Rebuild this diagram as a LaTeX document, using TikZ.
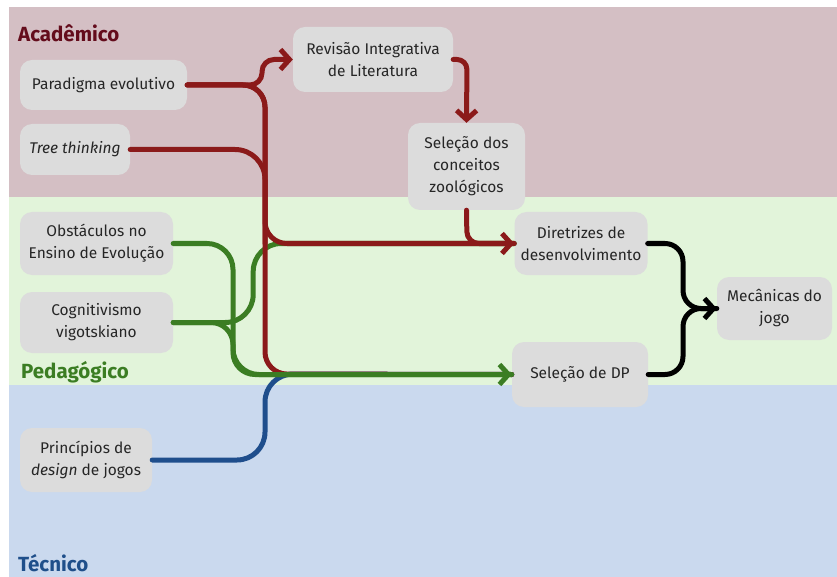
\documentclass[tikz,border=0pt]{standalone}
\usepackage{fontspec}
\setmainfont{Fira Sans}
\usetikzlibrary{arrows.meta}
\definecolor{bgA}{HTML}{D4BFC4}
\definecolor{bgP}{HTML}{E2F4DA}
\definecolor{bgT}{HTML}{CAD9EE}
\definecolor{labA}{HTML}{640C1C}
\definecolor{labP}{HTML}{3B7D23}
\definecolor{labT}{HTML}{1F4F8A}
\definecolor{lnR}{HTML}{8B1A1A}
\definecolor{lnG}{HTML}{3B7D23}
\definecolor{lnB}{HTML}{1F4E8C}
\definecolor{boxfill}{HTML}{DCDCDC}
\begin{document}
\begin{tikzpicture}[x=1pt,y=-1pt,
  box/.style={fill=boxfill,rounded corners=12pt,align=center,inner sep=0pt,
    font=\fontsize{15.5}{22}\selectfont,text=black!85},
  grp/.style={font=\fontsize{20.5}{22}\selectfont\bfseries,anchor=base west,inner sep=0pt},
  conn/.style={line width=5pt,line cap=round,line join=round,rounded corners=#1},
  conn/.default=20pt,
  tip/.style={-{Straight Barb[length=9pt,width=20pt,line width=5pt]}}
]
\useasboundingbox (0,0) rectangle (837,577);
\fill[white] (0,0) rectangle (837,577);
\fill[bgA] (9,7) rectangle (837,197);
\fill[bgP] (9,197) rectangle (837,385);
\fill[bgT] (9,385) rectangle (837,577);
\node[grp,text=labA] (lA) at (18,42) {Acadêmico};
\node[grp,text=labP] (lP) at (21,378) {Pedagógico};
\node[grp,text=labT] (lT) at (18,571) {Técnico};

\node[box,minimum width=167pt,minimum height=50pt] (par) at (103.5,85) {Paradigma evolutivo};
\node[box,minimum width=110pt,minimum height=51pt] (tree) at (75,149.5) {\itshape Tree thinking};
\node[box,minimum width=160pt,minimum height=65pt] (rev) at (373,59.5) {Revisão Integrativa\\de Literatura};
\node[box,minimum width=117pt,minimum height=87pt] (sel) at (466.5,166.5) {Seleção dos\\conceitos\\zoológicos};
\node[box,minimum width=133pt,minimum height=63pt] (dir) at (581,243.5) {Diretrizes de\\desenvolvimento};
\node[box,minimum width=115pt,minimum height=63pt] (mec) at (774.5,308.5) {Mecânicas do\\jogo};
\node[box,minimum width=136pt,minimum height=65pt] (dp) at (580,374.5) {Seleção de DP};
\node[box,minimum width=153pt,minimum height=63pt] (obs) at (96.5,243.5) {Obstáculos no\\Ensino de Evolução};
\node[box,minimum width=153pt,minimum height=61pt] (cog) at (96.5,322.5) {Cognitivismo\\vigotskiano};
\node[box,minimum width=132pt,minimum height=64pt] (pri) at (86,460) {Princípios de\\\textit{design} de jogos};

% green up-branch (under red)
\draw[conn=28pt,lnG] (cog.east) -- ++(80,0) |- (dir.west);
% blue
\draw[conn=28pt,lnB] (pri.east) -- (265,460) -- (265,374) -- (dp.west);
% red
\draw[conn=12pt,lnR,tip] (par.east) -- (262,85) -- (262,59.5) -- (rev.west);
\draw[conn=22pt,lnR] (par.east) -- (265,85) -- (265,374) -- (dp.west);
\draw[conn=30pt,lnR] (tree.east) -- (265,149.5) -- (265,243.5);
\draw[conn=12pt,lnR] (sel.south) -- (467,243.5) -- (dir.west);
\draw[conn=10pt,lnR,tip] (rev.east) -- (467,59.5) -- (sel.north);
\draw[conn=22pt,lnR,tip] (par.east) -- (265,85) -- (265,243.5) -- (dir.west);
% green main
\draw[conn=22pt,lnG] (cog.east) -- (233,322.5) -- (233,374.5) -- (dp.west);
\draw[conn=26pt,lnG,tip] (obs.east) -- (233,243.5) -- (233,374.5) -- (dp.west);
% black
\draw[conn=18pt,black] (dp.east) -- (683,374.5) -- (683,308.5) -- (mec.west);
\draw[conn=18pt,black,tip] (dir.east) -- (683,243.5) -- (683,308.5) -- (mec.west);
\end{tikzpicture}
\end{document}
